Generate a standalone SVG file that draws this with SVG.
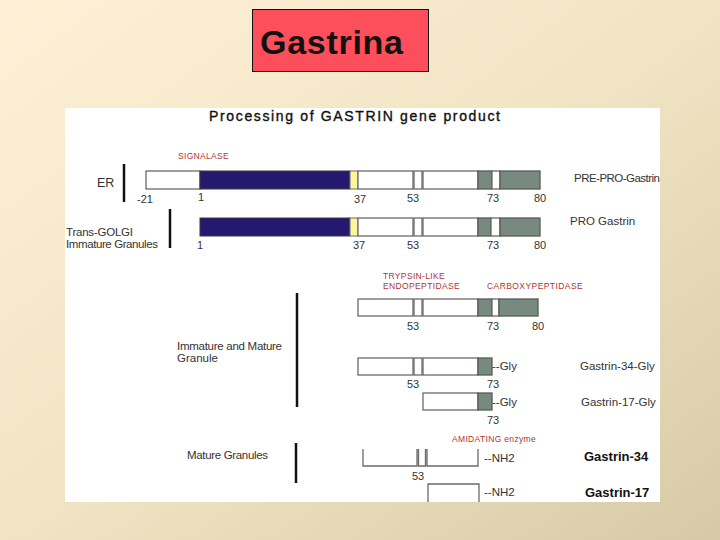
<svg xmlns="http://www.w3.org/2000/svg" width="720" height="540" viewBox="0 0 720 540">
<defs>
<linearGradient id="bg" x1="0" y1="0" x2="1" y2="1">
<stop offset="0" stop-color="#FDF0D6"/>
<stop offset="0.5" stop-color="#F1E4C4"/>
<stop offset="1" stop-color="#D6CAA6"/>
</linearGradient>
<style>
.w{fill:#ffffff;stroke:#6a6a6a;stroke-width:1.3}
.b{fill:#24196E;stroke:#3a3a3a;stroke-width:1}
.y{fill:#FFF59C;stroke:#6a6a6a;stroke-width:1}
.g{fill:#788A80;stroke:#5a5a5a;stroke-width:1.3}
text{font-family:"Liberation Sans",Arial,sans-serif;fill:#222}
.num{font-size:11px;text-anchor:middle;fill:#333}
.lbl{font-size:11.5px;fill:#333}
.red{font-size:8.5px;fill:#B03434;letter-spacing:0.3px}
.bold{font-size:13px;font-weight:bold;fill:#111}
.sep{stroke:#111;stroke-width:2.5}
</style>
</defs>
<rect x="0" y="0" width="720" height="540" fill="url(#bg)"/>
<g id="title">
<rect x="252.5" y="9.5" width="176" height="62" fill="#FC4F5B" stroke="#111" stroke-width="1"/>
<text x="260" y="54" textLength="143" style="font-size:34px;font-weight:bold;fill:#111">Gastrina</text>
</g>
<rect x="65" y="108" width="595" height="394" fill="#ffffff"/>
<g id="heading">
<text x="209" y="121" textLength="292" style="font-size:14px;fill:#111;stroke:#111;stroke-width:0.35;letter-spacing:1px">Processing of GASTRIN gene product</text>
</g>
<g id="separators">
<line class="sep" x1="124" y1="164" x2="124" y2="202"/>
<line class="sep" x1="170" y1="209" x2="170" y2="248"/>
<line class="sep" x1="297" y1="293" x2="297" y2="407"/>
<line class="sep" x1="296" y1="443" x2="296" y2="483"/>
</g>
<g id="stage-labels">
<text class="lbl" x="97" y="187" style="font-size:12.5px">ER</text>
<text class="lbl" x="66" y="236" textLength="67">Trans-GOLGI</text>
<text class="lbl" x="66" y="248" textLength="92">Immature Granules</text>
<text class="lbl" x="177" y="350" textLength="105">Immature and Mature</text>
<text class="lbl" x="177" y="362">Granule</text>
<text class="lbl" x="187" y="459" textLength="81">Mature Granules</text>
</g>
<g id="enzymes">
<text class="red" x="178" y="159" textLength="51">SIGNALASE</text>
<text class="red" x="383" y="279" textLength="62">TRYPSIN-LIKE</text>
<text class="red" x="383" y="289" textLength="77">ENDOPEPTIDASE</text>
<text class="red" x="487" y="289" textLength="96">CARBOXYPEPTIDASE</text>
<text class="red" x="452" y="442" textLength="84">AMIDATING enzyme</text>
</g>
<g id="pre-pro-gastrin">
<rect class="w" x="146" y="171" width="54" height="18"/>
<rect class="b" x="200" y="171" width="150" height="18"/>
<rect class="y" x="350" y="171" width="8" height="18"/>
<rect class="w" x="358" y="171" width="55" height="18"/>
<rect class="w" x="414" y="171" width="8" height="18"/>
<rect class="w" x="423" y="171" width="55" height="18"/>
<rect class="g" x="478" y="171" width="14" height="18"/>
<rect class="w" x="492" y="171" width="8" height="18"/>
<rect class="g" x="500" y="171" width="40" height="18"/>
<text class="num" x="145" y="203">-21</text>
<text class="num" x="201" y="201">1</text>
<text class="num" x="360" y="203">37</text>
<text class="num" x="413" y="202">53</text>
<text class="num" x="493" y="202">73</text>
<text class="num" x="540" y="202">80</text>
<text class="lbl" x="574" y="182" textLength="86">PRE-PRO-Gastrin</text>
</g>
<g id="pro-gastrin">
<rect class="b" x="200" y="218" width="150" height="18"/>
<rect class="y" x="350" y="218" width="8" height="18"/>
<rect class="w" x="358" y="218" width="55" height="18"/>
<rect class="w" x="414" y="218" width="8" height="18"/>
<rect class="w" x="423" y="218" width="55" height="18"/>
<rect class="g" x="478" y="218" width="13" height="18"/>
<rect class="w" x="491" y="218" width="9" height="18"/>
<rect class="g" x="500" y="218" width="40" height="18"/>
<text class="num" x="200" y="249">1</text>
<text class="num" x="359" y="249">37</text>
<text class="num" x="413" y="249">53</text>
<text class="num" x="493" y="249">73</text>
<text class="num" x="540" y="249">80</text>
<text class="lbl" x="570" y="225">PRO Gastrin</text>
</g>
<g id="cleaved">
<rect class="w" x="358" y="299" width="55" height="17"/>
<rect class="w" x="414" y="299" width="8" height="17"/>
<rect class="w" x="423" y="299" width="55" height="17"/>
<rect class="g" x="478" y="299" width="14" height="17"/>
<rect class="w" x="492" y="299" width="7" height="17"/>
<rect class="g" x="499" y="299" width="39" height="17"/>
<text class="num" x="413" y="330">53</text>
<text class="num" x="493" y="330">73</text>
<text class="num" x="538" y="330">80</text>
</g>
<g id="gastrin-34-gly">
<rect class="w" x="358" y="358" width="55" height="17"/>
<rect class="w" x="414" y="358" width="8" height="17"/>
<rect class="w" x="423" y="358" width="55" height="17"/>
<rect class="g" x="478" y="358" width="14" height="17"/>
<text class="lbl" x="492" y="370">--Gly</text>
<text class="num" x="413" y="388">53</text>
<text class="num" x="493" y="388">73</text>
<text class="lbl" x="580" y="370">Gastrin-34-Gly</text>
</g>
<g id="gastrin-17-gly">
<rect class="w" x="423" y="393" width="55" height="17"/>
<rect class="g" x="478" y="393" width="14" height="17"/>
<text class="lbl" x="492" y="406">--Gly</text>
<text class="num" x="493" y="424">73</text>
<text class="lbl" x="581" y="406">Gastrin-17-Gly</text>
</g>
<g id="gastrin-34">
<path class="w" d="M363 449V466H417V449M418.5 449V466H425.5V449M427 449V466H478V449"/>
<text class="lbl" x="484" y="462">--NH2</text>
<text class="num" x="418" y="480">53</text>
<text class="bold" x="584" y="461">Gastrin-34</text>
</g>
<g id="gastrin-17">
<path class="w" d="M428 502V484H479V502"/>
<text class="lbl" x="484" y="496">--NH2</text>
<text class="bold" x="585" y="497">Gastrin-17</text>
</g>
</svg>
